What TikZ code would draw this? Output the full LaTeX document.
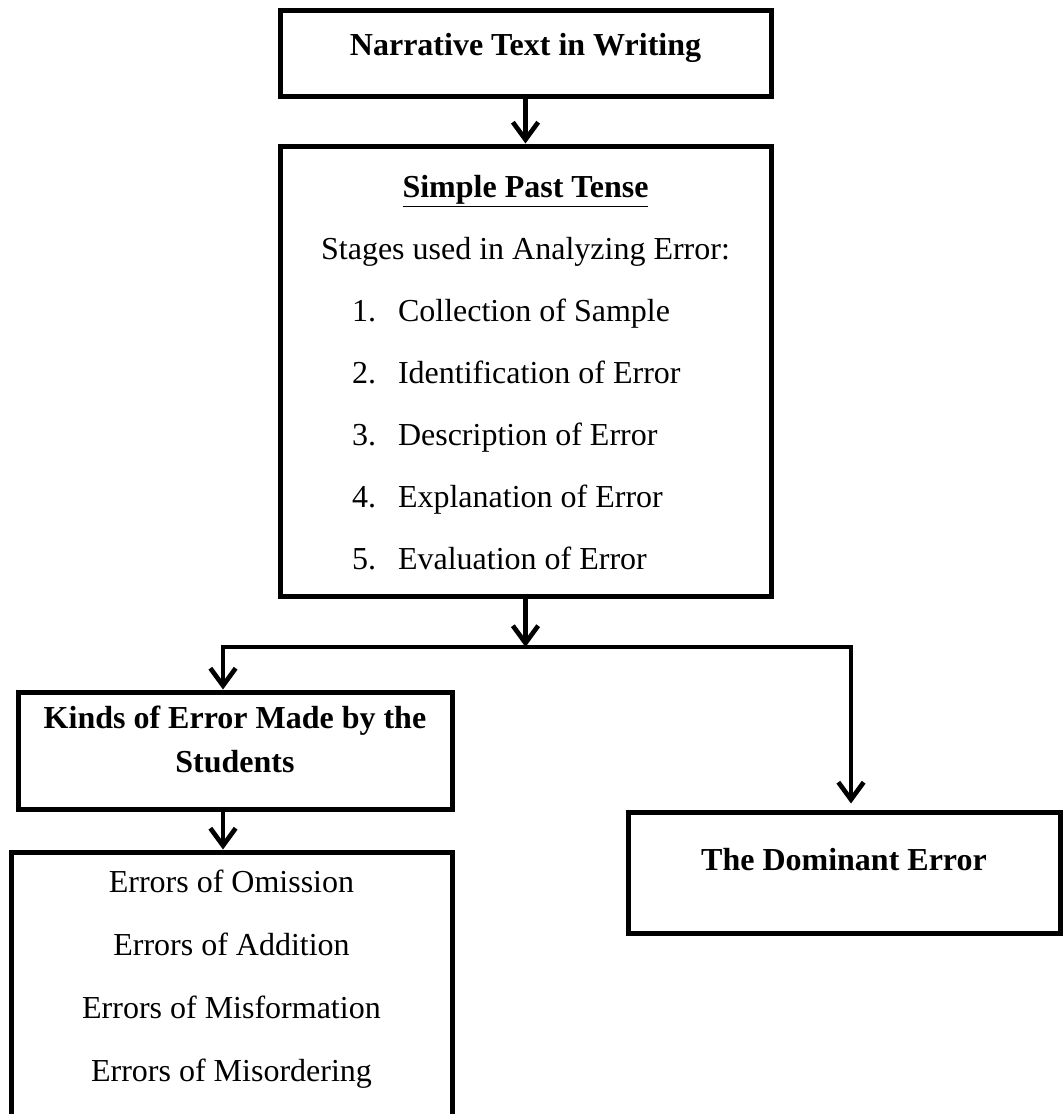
\documentclass[tikz,border=0pt]{standalone}
\usepackage{fontspec}
\setmainfont{Liberation Serif}
\usetikzlibrary{arrows.meta}
\begin{document}
\begin{tikzpicture}[x=0.75pt, y=-0.75pt,
	box/.style={draw, line width=3.75pt, inner sep=0pt},
	link/.style={line width=3.5pt, -{Straight Barb[length=13pt, width=19pt]}},
	headtext/.style={font=\fontsize{24}{33}\selectfont\bfseries, align=center},
	listtext/.style={font=\fontsize{24}{47.25}\selectfont, align=center},
	tensetext/.style={font=\fontsize{24}{46.5}\selectfont}]
	\useasboundingbox (0,0) rectangle (1063,1114);
	\node[box, minimum width=368.25pt, minimum height=64.5pt] (narr) at (525.5,53) {};
	\node[box, minimum width=368.25pt, minimum height=337.5pt] (tense) at (525.5,371) {};
	\node[box, minimum width=325.5pt, minimum height=87.75pt] (kinds) at (235,750.5) {};
	\node[box, minimum width=330.75pt, minimum height=231pt] (forms) at (231.5,1006) {};
	\node[box, minimum width=324pt, minimum height=90.75pt] (dom) at (844,872.5) {};
	\node[headtext] (narrtxt) at ([yshift=3.75pt]narr.center) {Narrative Text in Writing};
	\node[tensetext] (tensetxt) at (tense.center) {\begin{tabular}{@{}l@{}}
		\multicolumn{1}{@{}c@{}}{\textbf{\underline{Simple Past Tense}}}\\
		Stages used in Analyzing Error:\\
		\hspace{23.2pt}\makebox[34.5pt][l]{1.}Collection of Sample\\
		\hspace{23.2pt}\makebox[34.5pt][l]{2.}Identification of Error\\
		\hspace{23.2pt}\makebox[34.5pt][l]{3.}Description of Error\\
		\hspace{23.2pt}\makebox[34.5pt][l]{4.}Explanation of Error\\
		\hspace{23.2pt}\makebox[34.5pt][l]{5.}Evaluation of Error
	\end{tabular}};
	\node[headtext] (kindstxt) at ([yshift=8pt]kinds.center) {Kinds of Error Made by the\\Students};
	\node[listtext] (formstxt) at (231.5,979.5) {Errors of Omission\\Errors of Addition\\Errors of Misformation\\Errors of Misordering};
	\node[headtext] (domtxt) at ([yshift=9.4pt]dom.center) {The Dominant Error};
	\coordinate (split) at (525.5,647);
	\coordinate (kindsin) at ([xshift=-9pt]kinds.north);
	\coordinate (kindsout) at ([xshift=-9pt]kinds.south);
	\coordinate (domin) at ([xshift=5.25pt]dom.north);
	\draw[link] (narr) -- (tense);
	\draw[link] (tense) -- (split);
	\draw[link] (split) -| (kindsin);
	\draw[link, shorten >=4.5pt] (split) -| (domin);
	\draw[link] (kindsout) -- (kindsout |- forms.north);
\end{tikzpicture}
\end{document}
